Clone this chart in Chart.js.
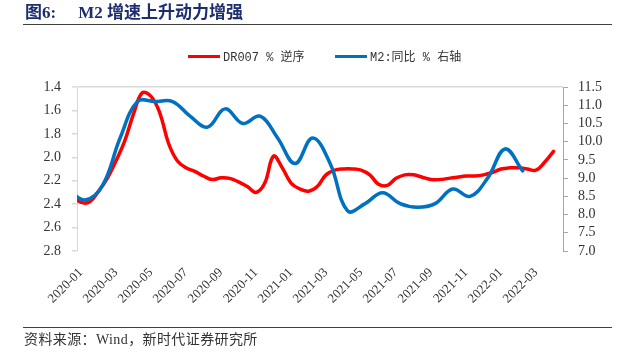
<!DOCTYPE html>
<html><head><meta charset="utf-8">
<script src="https://cdn.jsdelivr.net/npm/chart.js@4.4.1/dist/chart.umd.min.js"></script>
<style>
html,body{margin:0;padding:0;background:#fff;}
#wrap{position:relative;width:631px;height:359px;overflow:hidden;background:#fff;}
canvas{position:absolute;left:0;top:0;}
.title{position:absolute;left:25px;top:2px;font:bold 17px "Liberation Serif","Noto Sans CJK SC";color:#1e2d6e;white-space:pre;line-height:22px;}
.rule{position:absolute;left:23px;width:589px;height:1px;background:#404040;}
.leg{position:absolute;top:50px;font:12px "Liberation Mono","Noto Sans CJK SC";color:#333;white-space:pre;line-height:16px;}
.sw{display:inline-block;width:32px;height:3px;vertical-align:middle;margin-right:3px;position:relative;top:-1px;}
.src{position:absolute;left:24px;top:331px;font:14px "Liberation Serif","Noto Sans CJK SC";color:#333;white-space:pre;line-height:18px;letter-spacing:0.4px;}
</style></head>
<body>
<div id="wrap">
  <canvas id="c" width="631" height="359"></canvas>
  <div class="title"><span>图6:</span><span style="margin-left:22px">M2 增速上升动力增强</span></div>
  <div class="rule" style="top:24px"></div>
  <div id="leg0" class="leg" style="left:188px"></div>
  <div id="leg1" class="leg" style="left:335px"></div>
  <div class="rule" style="top:327px"></div>
  <div class="src">资料来源：Wind，新时代证券研究所</div>
</div>
<script>
// ---- data ----
const seriesNames = ['DR007 % 逆序', 'M2:同比 % 右轴'];
const xTickLabels = ['2020-01','2020-03','2020-05','2020-07','2020-09','2020-11','2021-01','2021-03','2021-05','2021-07','2021-09','2021-11','2022-01','2022-03'];
const leftTicks = [1.4,1.6,1.8,2.0,2.2,2.4,2.6,2.8];
const rightTicks = [7.0,7.5,8.0,8.5,9.0,9.5,10.0,10.5,11.0,11.5];

const dr007Dates = ['2019-12-16','2020-01-01','2020-01-16','2020-02-01','2020-02-16','2020-03-01','2020-03-16','2020-04-01','2020-04-16','2020-05-01','2020-05-16','2020-06-01','2020-06-16','2020-07-01','2020-07-16','2020-08-01','2020-08-16','2020-09-01','2020-09-16','2020-10-01','2020-10-16','2020-11-01','2020-11-16','2020-12-01','2020-12-16','2021-01-01','2021-01-16','2021-02-01','2021-02-16','2021-03-01','2021-03-16','2021-04-01','2021-04-16','2021-05-01','2021-05-16','2021-06-01','2021-06-16','2021-07-01','2021-07-16','2021-08-01','2021-08-16','2021-09-01','2021-09-16','2021-10-01','2021-10-16','2021-11-01','2021-11-16','2021-12-01','2021-12-16','2022-01-01','2022-01-16','2022-02-01','2022-02-16','2022-03-01','2022-03-16','2022-04-01'];
const dr007Values = [2.33,2.385,2.38,2.29,2.18,2.03,1.86,1.63,1.45,1.48,1.62,1.88,2.03,2.09,2.12,2.16,2.19,2.175,2.18,2.21,2.25,2.30,2.22,1.99,2.09,2.22,2.27,2.29,2.25,2.15,2.11,2.10,2.10,2.11,2.15,2.23,2.24,2.18,2.15,2.15,2.17,2.19,2.19,2.18,2.17,2.16,2.16,2.15,2.13,2.10,2.09,2.09,2.10,2.11,2.04,1.95];

const m2Dates = ['2019-12-08','2020-01-08','2020-02-08','2020-03-08','2020-04-08','2020-05-08','2020-06-08','2020-07-08','2020-08-08','2020-09-08','2020-10-08','2020-11-08','2020-12-08','2021-01-08','2021-02-08','2021-03-08','2021-04-08','2021-05-08','2021-06-08','2021-07-08','2021-08-08','2021-09-08','2021-10-08','2021-11-08','2021-12-08','2022-01-08','2022-02-08'];
const m2Values = [8.7,8.4,8.8,10.1,11.1,11.1,11.1,10.7,10.4,10.9,10.5,10.7,10.1,9.4,10.1,9.4,8.1,8.3,8.6,8.3,8.2,8.3,8.7,8.5,9.0,9.8,9.2];

// ---- helpers ----
function monthIndex(s){
  const p = s.split('-').map(Number);
  return (p[0]-2020)*12 + (p[1]-1) + ((p[2]||1)-1)/30;
}
const colors = ['#ff0000', '#0070c0'];

// legend (html text)
[0,1].forEach(i=>{
  const el = document.getElementById('leg'+i);
  el.innerHTML = '<span class="sw" style="background:'+colors[i]+'"></span>' + seriesNames[i];
});

const serif = '"Liberation Serif","Times New Roman",serif';

new Chart(document.getElementById('c'), {
  type: 'line',
  data: {
    datasets: [
      {
        label: seriesNames[0],
        data: dr007Dates.map((d,i)=>({x: monthIndex(d), y: dr007Values[i]})),
        yAxisID: 'y',
        borderColor: colors[0], backgroundColor: colors[0],
        borderWidth: 3.5, pointRadius: 0, tension: 0.4, order: 2,
        borderCapStyle: 'round', borderJoinStyle: 'round'
      },
      {
        label: seriesNames[1],
        data: m2Dates.map((d,i)=>({x: monthIndex(d), y: m2Values[i]})),
        yAxisID: 'y1',
        borderColor: colors[1], backgroundColor: colors[1],
        borderWidth: 3.5, pointRadius: 0, tension: 0.4, order: 1,
        borderCapStyle: 'round', borderJoinStyle: 'round'
      }
    ]
  },
  options: {
    responsive: false,
    animation: false,
    devicePixelRatio: 1,
    layout: { padding: { top: 87, left: 0, right: 0, bottom: 0 } },
    plugins: { legend: { display: false }, tooltip: { enabled: false } },
    scales: {
      x: {
        type: 'linear',
        min: -0.229, max: 27.54,
        afterBuildTicks: s => { s.ticks = xTickLabels.map(l => ({ value: monthIndex(l) })); },
        afterFit: s => { s.height = 108; },
        grid: { display: false },
        border: { display: false },
        ticks: {
          autoSkip: false, minRotation: 45, maxRotation: 45, padding: 6,
          color: '#333', font: { family: serif, size: 13 },
          callback: (v, i) => xTickLabels[i]
        }
      },
      y: {
        position: 'left',
        reverse: true,
        min: 1.4, max: 2.8,
        afterBuildTicks: s => { s.ticks = leftTicks.map(v => ({ value: v })); },
        afterFit: s => { s.width = 77; },
        grid: {
          color: c => (c.tick && Math.abs(c.tick.value - 1.4) < 1e-9) ? '#d9d9d9' : 'rgba(0,0,0,0)',
          tickColor: '#d9d9d9', tickLength: 5, lineWidth: 1.5
        },
        border: { color: '#d9d9d9', width: 1 },
        ticks: { autoSkip: false, padding: 11, color: '#333', font: { family: serif, size: 14 }, callback: v => Number(v).toFixed(1) }
      },
      y1: {
        position: 'right',
        min: 7, max: 11.5,
        afterBuildTicks: s => { s.ticks = rightTicks.map(v => ({ value: v })); },
        afterFit: s => { s.width = 68; },
        grid: { drawOnChartArea: false, tickColor: '#a6a6a6', tickLength: 5 },
        border: { color: '#a6a6a6', width: 1 },
        ticks: { autoSkip: false, padding: 10, color: '#333', font: { family: serif, size: 14 }, callback: v => Number(v).toFixed(1) }
      }
    }
  }
});
</script>
</body></html>
